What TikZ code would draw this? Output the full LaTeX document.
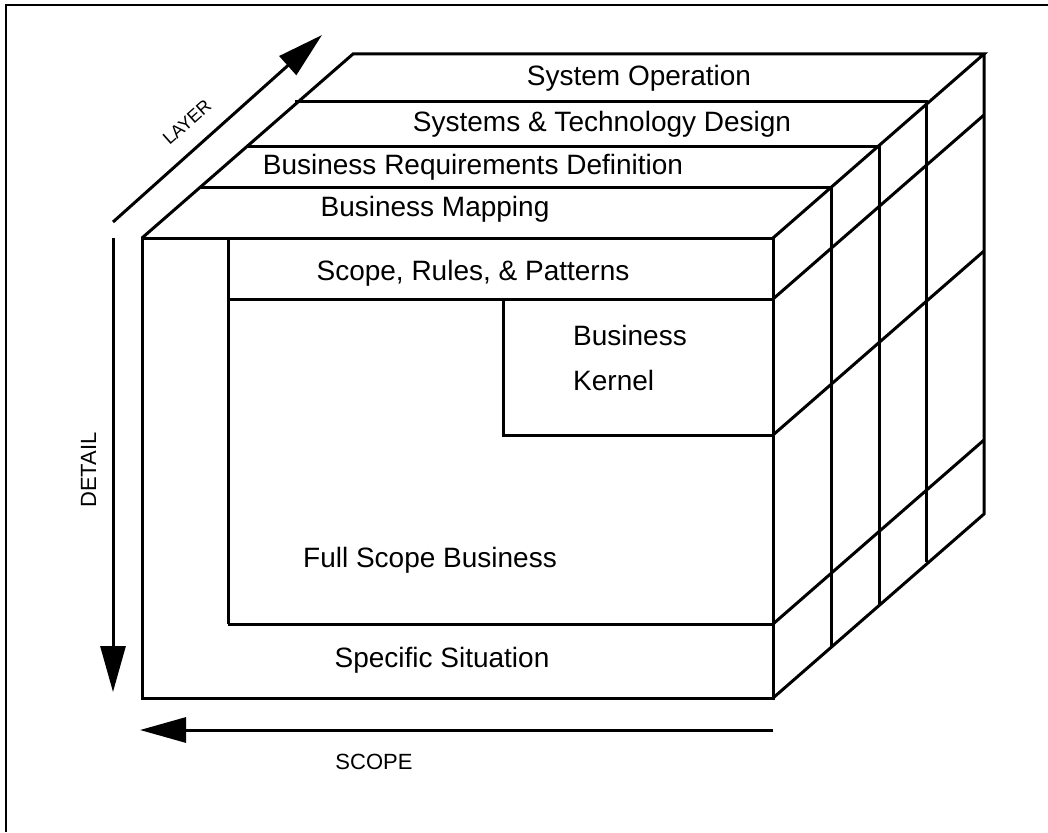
\documentclass[tikz,border=0pt]{standalone}
\usepackage{fontspec}
\setmainfont{Liberation Sans}
\usetikzlibrary{arrows.meta}
\tikzset{
  edge/.style={line width=3pt, line join=miter},
  frame/.style={line width=2.2pt},
  lbl/.style={font=\fontsize{28}{34}\selectfont, inner sep=0pt, anchor=base},
  axislbl/.style={font=\fontsize{22}{26}\selectfont, inner sep=0pt},
  axis/.style={line width=3pt, -{Triangle[length=46pt,width=25pt]}}
}
\begin{document}
\begin{tikzpicture}[x=1pt,y=-1pt]
\useasboundingbox (0,0) rectangle (1048,832);
% frame (cropped at right and bottom)
\draw[frame] (6,832) -- (6,5) -- (1048,5);
% named corner coordinates
\coordinate (ftl) at (142,238);
\coordinate (ftr) at (773,238);
\coordinate (fbl) at (142,698);
\coordinate (fbr) at (773,698);
% front face
\draw[edge] (ftl) rectangle (fbr);
\draw[edge] (228,238) -- (228,624);
\draw[edge] (228,299) -- (773,299);
\draw[edge] (228,624) -- (773,624);
\draw[edge] (503,299) -- (503,435) -- (773,435);
% top face
\draw[edge] (ftl) -- (353,54) -- (984,54) -- (ftr);
\foreach \dx/\dy in {58/-51, 106/-92, 153/-136} {
  \draw[edge] (142+\dx,238+\dy) -- (773+\dx,238+\dy) -- (773+\dx,698+\dy);
}
% right face
\draw[edge] (984,54) -- (984,514) -- (fbr);
\foreach \y in {299,435,624} {
  \draw[edge] (773,\y) -- (984,\y-184);
}
% labels
\node[lbl] (so) at (639,86) {System Operation};
\node[lbl] (std) at (602,131) {Systems \& Technology Design};
\node[lbl] (brd) at (473,174) {Business Requirements Definition};
\node[lbl] (bm) at (435,216) {Business Mapping};
\node[lbl] (srp) at (473,280) {Scope, Rules, \& Patterns};
\node[lbl, anchor=base west] (bk1) at (573,345) {Business};
\node[lbl, anchor=base west] (bk2) at (573,390) {Kernel};
\node[lbl] (fsb) at (430,567) {Full Scope Business};
\node[lbl] (ss) at (442,667) {Specific Situation};
% axes
\coordinate (la) at (113,222);
\coordinate (lb) at (322,35);
\draw[axis] (la) -- (lb);
\coordinate (da) at (113,238);
\coordinate (db) at (113,692);
\draw[axis] (da) -- (db);
\coordinate (sa) at (773,730);
\coordinate (sb) at (140,730);
\draw[axis] (sa) -- (sb);
\node[axislbl, font=\fontsize{18}{22}\selectfont, rotate=41.8] (layer) at (187,122) {LAYER};
\node[axislbl, rotate=90, anchor=base] (detail) at (96,470) {DETAIL};
\node[axislbl, anchor=base] (scope) at (374,769) {SCOPE};
\end{tikzpicture}
\end{document}
